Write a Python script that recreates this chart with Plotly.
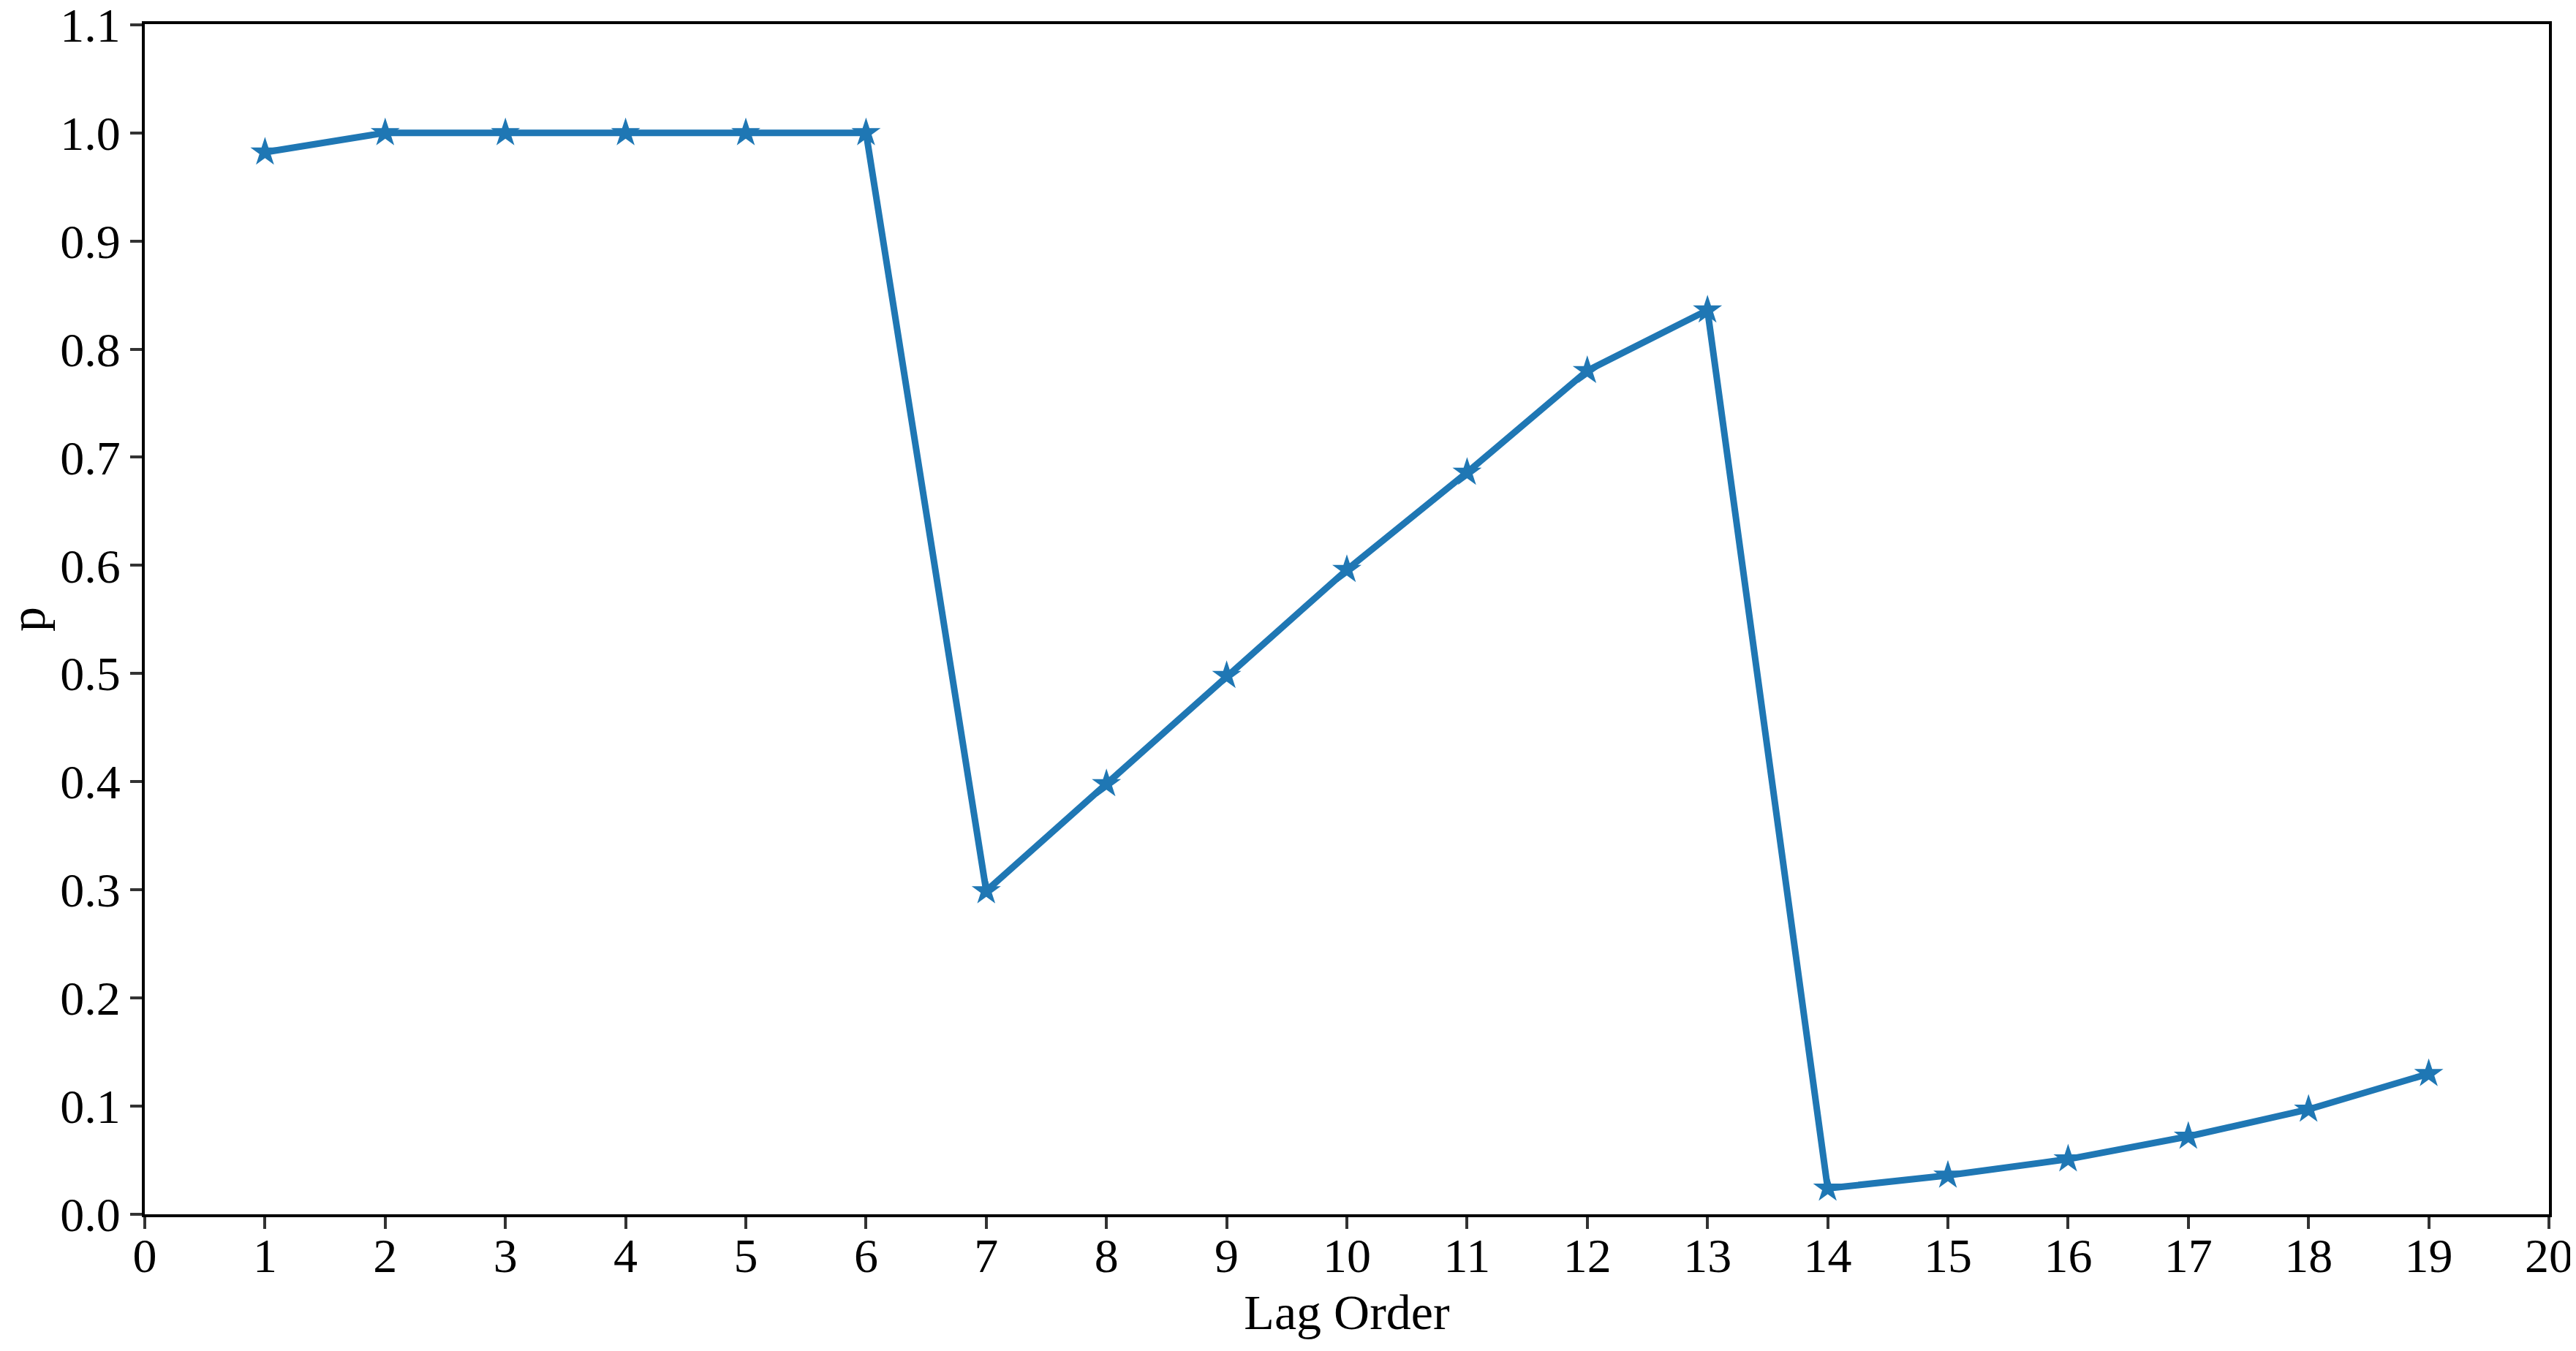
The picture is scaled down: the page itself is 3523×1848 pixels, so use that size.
import plotly.graph_objects as go

lag_order = list(range(1, 20))
p_values = [0.982, 1.0, 1.0, 1.0, 1.0, 1.0, 0.299, 0.398, 0.498, 0.596, 0.686,
            0.780, 0.836, 0.024, 0.036, 0.051, 0.072, 0.097, 0.130]
x_ticks = list(range(0, 21))
y_ticks = [round(i * 0.1, 1) for i in range(0, 12)]
y_tick_labels = [f"{v:.1f}" for v in y_ticks]

font_family = "Liberation Serif, Times New Roman, serif"

fig = go.Figure()
fig.add_trace(go.Scatter(
    x=lag_order, y=p_values, mode="lines+markers",
    line=dict(color="#1f77b4", width=9),
    marker=dict(symbol="star", size=30, color="#1f77b4", line=dict(width=0)),
    showlegend=False,
))

axis_common = dict(
    showline=True, linecolor="black", linewidth=4, mirror=True,
    ticks="outside", ticklen=16, tickwidth=4, tickcolor="#333333",
    showgrid=False, zeroline=False, automargin=False,
    ticklabeloverflow="allow",
    tickfont=dict(family=font_family, size=66, color="black"),
)

fig.update_layout(
    width=3523, height=1848,
    margin=dict(l=190, r=45, t=25, b=195),
    paper_bgcolor="white", plot_bgcolor="white",
    font=dict(family=font_family, color="black"),
    xaxis=dict(range=[0, 20], tickvals=x_ticks, ticklabelstandoff=-20,
               title=dict(text="Lag Order", font=dict(family=font_family, size=68), standoff=18),
               **axis_common),
    yaxis=dict(range=[0, 1.1005], tickvals=y_ticks, ticktext=y_tick_labels,
               **axis_common),
    annotations=[dict(
        text="p", xref="paper", yref="paper", x=0, y=0.5,
        xanchor="center", yanchor="middle", xshift=-160, textangle=-90,
        showarrow=False, font=dict(family=font_family, size=68, color="black"),
    )],
)

fig.write_html("out.html")
